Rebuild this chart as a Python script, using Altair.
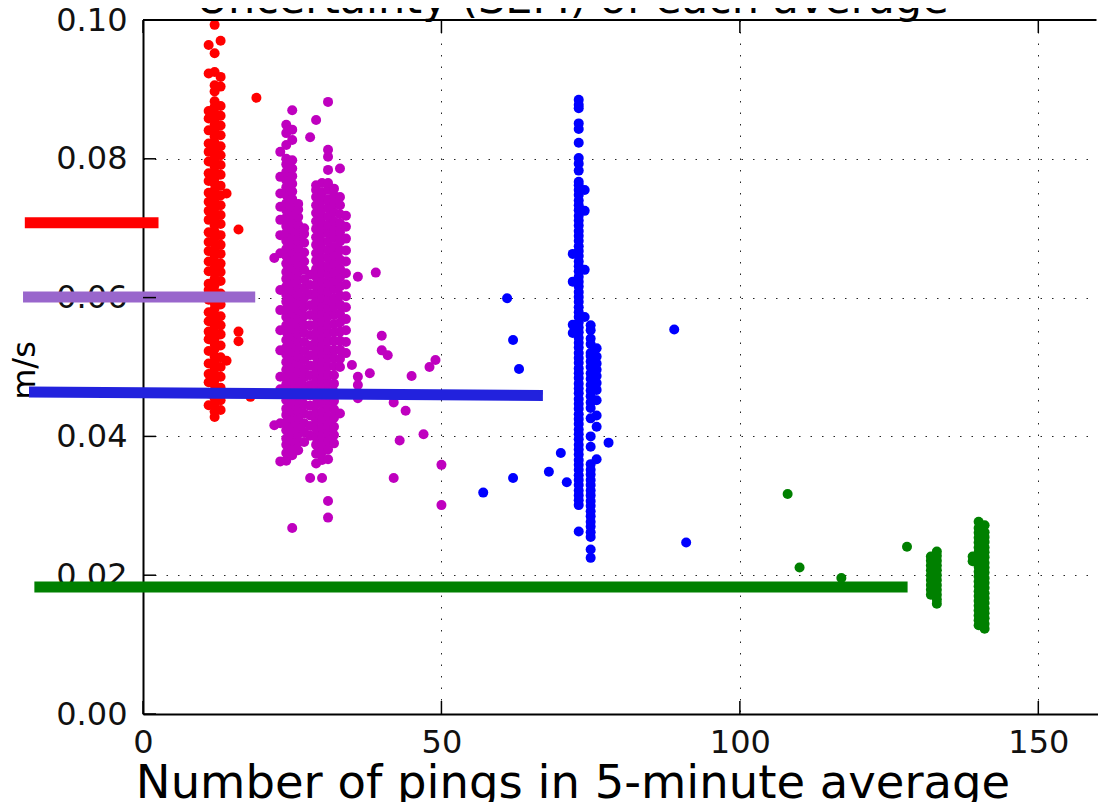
import altair as alt
import pandas as pd

# ---------------- data ----------------
red_cols = {
    11: [0.0445, 0.0462, 0.0478, 0.0490, 0.0505, 0.0523, 0.0540, 0.0551, 0.0566, 0.0579, 0.0597,
         0.0611, 0.0620, 0.0638, 0.0652, 0.0667, 0.0680, 0.0694, 0.0712, 0.0725, 0.0738, 0.0751,
         0.0768, 0.0779, 0.0796, 0.0810, 0.0822, 0.0841, 0.0858, 0.0869, 0.0923, 0.0964],
    12: [0.0428, 0.0436, 0.0447, 0.0455, 0.0463, 0.0474, 0.0482, 0.0489, 0.0498, 0.0507, 0.0515,
         0.0526, 0.0533, 0.0541, 0.0549, 0.0558, 0.0567, 0.0575, 0.0584, 0.0592, 0.0601, 0.0609,
         0.0618, 0.0627, 0.0635, 0.0643, 0.0652, 0.0661, 0.0669, 0.0678, 0.0686, 0.0695, 0.0704,
         0.0712, 0.0721, 0.0729, 0.0738, 0.0746, 0.0755, 0.0764, 0.0772, 0.0781, 0.0789, 0.0798,
         0.0806, 0.0815, 0.0823, 0.0832, 0.0840, 0.0849, 0.0857, 0.0866, 0.0875, 0.0883, 0.0897,
         0.0906, 0.0925, 0.0952, 0.0993],
    13: [0.0438, 0.0452, 0.0470, 0.0486, 0.0500, 0.0514, 0.0531, 0.0547, 0.0560, 0.0573, 0.0590,
         0.0606, 0.0624, 0.0637, 0.0649, 0.0663, 0.0676, 0.0690, 0.0706, 0.0719, 0.0733, 0.0747,
         0.0761, 0.0777, 0.0791, 0.0805, 0.0818, 0.0834, 0.0848, 0.0862, 0.0876, 0.0904, 0.0918,
         0.0970],
}
red_extra_x = [19, 14, 16, 16, 16, 14, 18]
red_extra_y = [0.0888, 0.0750, 0.0698, 0.0551, 0.0537, 0.0509, 0.0457]

mag_cols = {
    23: [0.0810, 0.0774, 0.0750, 0.0731, 0.0712, 0.0690, 0.0664, 0.0611, 0.0582, 0.0553, 0.0524,
         0.0486, 0.0468, 0.0419],
    24: [0.0365, 0.0376, 0.0388, 0.0397, 0.0409, 0.0420, 0.0431, 0.0440, 0.0452, 0.0463, 0.0475,
         0.0484, 0.0496, 0.0507, 0.0518, 0.0528, 0.0539, 0.0551, 0.0560, 0.0572, 0.0583, 0.0594,
         0.0604, 0.0616, 0.0627, 0.0637, 0.0649, 0.0660, 0.0670, 0.0682, 0.0693, 0.0703, 0.0715,
         0.0726, 0.0736, 0.0748, 0.0759, 0.0769, 0.0781, 0.0792, 0.0800, 0.0820, 0.0837, 0.0849],
    25: [0.0373, 0.0383, 0.0394, 0.0404, 0.0415, 0.0426, 0.0436, 0.0447, 0.0458, 0.0469, 0.0479,
         0.0490, 0.0501, 0.0512, 0.0522, 0.0533, 0.0545, 0.0555, 0.0566, 0.0577, 0.0588, 0.0598,
         0.0610, 0.0621, 0.0632, 0.0643, 0.0654, 0.0665, 0.0676, 0.0687, 0.0698, 0.0709, 0.0720,
         0.0731, 0.0742, 0.0753, 0.0764, 0.0775, 0.0786, 0.0798, 0.0827, 0.0842, 0.0870],
    26: [0.0380, 0.0392, 0.0403, 0.0413, 0.0425, 0.0437, 0.0448, 0.0458, 0.0470, 0.0481, 0.0492,
         0.0503, 0.0515, 0.0526, 0.0537, 0.0548, 0.0559, 0.0570, 0.0582, 0.0593, 0.0604, 0.0615,
         0.0626, 0.0637, 0.0648, 0.0660, 0.0671, 0.0682, 0.0693, 0.0705, 0.0716, 0.0727, 0.0735],
    27: [0.0392, 0.0406, 0.0419, 0.0433, 0.0446, 0.0458, 0.0472, 0.0485, 0.0497, 0.0510, 0.0523,
         0.0536, 0.0549, 0.0561, 0.0574, 0.0587, 0.0600, 0.0613, 0.0626, 0.0640, 0.0652, 0.0665,
         0.0679, 0.0692, 0.0700],
    28: [0.0401, 0.0415, 0.0430, 0.0444, 0.0459, 0.0474, 0.0488, 0.0502, 0.0517, 0.0531, 0.0546,
         0.0560, 0.0575, 0.0589, 0.0604, 0.0618, 0.0633, 0.0831],
    29: [0.0361, 0.0375, 0.0388, 0.0399, 0.0411, 0.0423, 0.0434, 0.0446, 0.0457, 0.0469, 0.0480,
         0.0492, 0.0503, 0.0515, 0.0526, 0.0538, 0.0549, 0.0561, 0.0572, 0.0584, 0.0595, 0.0607,
         0.0618, 0.0630, 0.0641, 0.0653, 0.0664, 0.0676, 0.0687, 0.0699, 0.0710, 0.0722, 0.0733,
         0.0745, 0.0755, 0.0762, 0.0856],
    30: [0.0366, 0.0378, 0.0390, 0.0401, 0.0413, 0.0425, 0.0436, 0.0448, 0.0460, 0.0471, 0.0483,
         0.0495, 0.0506, 0.0518, 0.0530, 0.0541, 0.0553, 0.0565, 0.0576, 0.0588, 0.0600, 0.0611,
         0.0623, 0.0635, 0.0646, 0.0658, 0.0670, 0.0681, 0.0693, 0.0705, 0.0716, 0.0728, 0.0740,
         0.0751, 0.0765],
    31: [0.0367, 0.0381, 0.0393, 0.0405, 0.0417, 0.0429, 0.0441, 0.0453, 0.0465, 0.0477, 0.0489,
         0.0501, 0.0513, 0.0525, 0.0537, 0.0549, 0.0561, 0.0573, 0.0585, 0.0597, 0.0609, 0.0621,
         0.0633, 0.0645, 0.0657, 0.0669, 0.0681, 0.0693, 0.0705, 0.0717, 0.0729, 0.0741, 0.0755,
         0.0765, 0.0784, 0.0803, 0.0813, 0.0882],
    32: [0.0390, 0.0402, 0.0414, 0.0427, 0.0439, 0.0451, 0.0464, 0.0476, 0.0488, 0.0501, 0.0513,
         0.0525, 0.0538, 0.0550, 0.0562, 0.0575, 0.0587, 0.0599, 0.0612, 0.0624, 0.0636, 0.0649,
         0.0661, 0.0673, 0.0686, 0.0698, 0.0710, 0.0723, 0.0735, 0.0747, 0.0757],
    33: [0.0500, 0.0512, 0.0525, 0.0538, 0.0551, 0.0564, 0.0577, 0.0590, 0.0603, 0.0616, 0.0629,
         0.0642, 0.0655, 0.0668, 0.0681, 0.0694, 0.0707, 0.0720, 0.0733, 0.0745, 0.0786],
    34: [0.0520, 0.0536, 0.0553, 0.0569, 0.0586, 0.0602, 0.0619, 0.0635, 0.0652, 0.0668, 0.0685,
         0.0702, 0.0718],
}
mag_extra_x = [22, 22, 23, 36, 39, 40, 40, 41, 38, 36, 36, 36, 35, 45, 48, 49, 42, 44, 47, 43,
               50, 50, 42, 25, 28, 30, 33, 31, 31]
mag_extra_y = [0.0416, 0.0657, 0.0364, 0.0630, 0.0636, 0.0545, 0.0524, 0.0517, 0.0491, 0.0486,
               0.0474, 0.0455, 0.0503, 0.0487, 0.0500, 0.0510, 0.0449, 0.0437, 0.0403, 0.0394,
               0.0359, 0.0301, 0.0340, 0.0268, 0.0340, 0.0340, 0.0433, 0.0307, 0.0283]

blue_cols = {
    72: [0.0663, 0.0623, 0.0561, 0.0549],
    73: [0.0263, 0.0301, 0.0308, 0.0315, 0.0322, 0.0330, 0.0337, 0.0344, 0.0352, 0.0359, 0.0366,
         0.0374, 0.0381, 0.0388, 0.0396, 0.0403, 0.0410, 0.0418, 0.0425, 0.0432, 0.0440, 0.0447,
         0.0454, 0.0462, 0.0469, 0.0476, 0.0484, 0.0491, 0.0498, 0.0506, 0.0513, 0.0520, 0.0528,
         0.0535, 0.0542, 0.0550, 0.0557, 0.0564, 0.0572, 0.0579, 0.0586, 0.0594, 0.0601, 0.0608,
         0.0616, 0.0623, 0.0630, 0.0638, 0.0645, 0.0652, 0.0660, 0.0667, 0.0674, 0.0682, 0.0689,
         0.0696, 0.0704, 0.0711, 0.0718, 0.0726, 0.0733, 0.0740, 0.0748, 0.0755, 0.0762, 0.0767,
         0.0783, 0.0793, 0.0801, 0.0823, 0.0843, 0.0851, 0.0873, 0.0878, 0.0885],
    74: [0.0755, 0.0725, 0.0640, 0.0572],
    75: [0.0225, 0.0237, 0.0255, 0.0262, 0.0270, 0.0277, 0.0285, 0.0292, 0.0300, 0.0307, 0.0315,
         0.0322, 0.0330, 0.0337, 0.0345, 0.0352, 0.0360, 0.0385, 0.0400, 0.0426, 0.0441, 0.0449,
         0.0458, 0.0466, 0.0474, 0.0483, 0.0491, 0.0500, 0.0508, 0.0516, 0.0520, 0.0533, 0.0541,
         0.0553, 0.0560],
    76: [0.0367, 0.0414, 0.0430, 0.0452, 0.0467, 0.0477, 0.0487, 0.0496, 0.0505, 0.0515, 0.0527],
}
blue_extra_x = [61, 62, 63, 89, 62, 57, 68, 70, 71, 78, 91]
blue_extra_y = [0.0599, 0.0539, 0.0497, 0.0554, 0.0340, 0.0319, 0.0349, 0.0376, 0.0334, 0.0391, 0.0247]

green_cols = {
    132: [0.0172, 0.0179, 0.0186, 0.0193, 0.0200, 0.0207, 0.0214, 0.0221, 0.0227],
    133: [0.0159, 0.0165, 0.0172, 0.0179, 0.0186, 0.0193, 0.0200, 0.0207, 0.0214, 0.0221, 0.0228,
          0.0234],
    139: [0.0227, 0.0220],
    140: [0.0128, 0.0135, 0.0142, 0.0149, 0.0156, 0.0163, 0.0170, 0.0177, 0.0184, 0.0191, 0.0198,
          0.0205, 0.0212, 0.0219, 0.0226, 0.0233, 0.0240, 0.0247, 0.0254, 0.0261, 0.0268, 0.0277],
    141: [0.0123, 0.0130, 0.0138, 0.0145, 0.0152, 0.0160, 0.0167, 0.0174, 0.0182, 0.0189, 0.0196,
          0.0204, 0.0211, 0.0218, 0.0226, 0.0233, 0.0240, 0.0248, 0.0255, 0.0262, 0.0272],
}
green_extra_x = [108, 110, 117, 128]
green_extra_y = [0.0317, 0.0211, 0.0196, 0.0241]

series_names = ["red", "magenta", "blue", "green"]
series_colors = ["#ff0000", "#bf00bf", "#0000ff", "#008000"]

# thick horizontal reference bars
bar_names = ["red", "purple", "blue", "green"]
bar_x_start = [-19.8, -20.1, -19.1, -18.2]
bar_x_end = [2.6, 18.8, 67.0, 128.1]
bar_y_start = [0.0708, 0.0601, 0.0464, 0.0183]
bar_y_end = [0.0708, 0.0601, 0.0459, 0.0183]
bar_colors = ["#ff0000", "#9966cc", "#2222dd", "#008000"]

x_ticks = [0, 50, 100, 150]
y_ticks = [0.0, 0.02, 0.04, 0.06, 0.08, 0.10]

title_text = "Uncertainty (SEM) of each average"
x_title = "Number of pings in 5-minute average"
y_title = "m/s"

# ---------------- build tables ----------------
rows = []
groups = [
    ("red", red_cols, red_extra_x, red_extra_y),
    ("magenta", mag_cols, mag_extra_x, mag_extra_y),
    ("blue", blue_cols, blue_extra_x, blue_extra_y),
    ("green", green_cols, green_extra_x, green_extra_y),
]
for name, cols, ex, ey in groups:
    for xv, ys in cols.items():
        for yv in ys:
            rows.append({"series": name, "x": xv, "y": yv})
    for xv, yv in zip(ex, ey):
        rows.append({"series": name, "x": xv, "y": yv})
points = pd.DataFrame(rows)

bars = pd.DataFrame({
    "name": bar_names, "x": bar_x_start, "x2": bar_x_end,
    "y": bar_y_start, "y2": bar_y_end, "c": bar_colors,
})

W, H = 955, 694
FONT = "DejaVu Sans"

xs = alt.Scale(domain=[0, 160], nice=False, zero=False)
ys = alt.Scale(domain=[0, 0.1], nice=False, zero=False)

grid_kw = dict(grid=True, gridColor="#000000", gridDash=[1.5, 10], gridWidth=1, gridOpacity=0.85)

xaxis = alt.Axis(
    values=x_ticks, format="d", title=x_title, ticks=False, tickSize=0,
    domain=True, domainColor="#000000", domainWidth=2,
    labelFont=FONT, labelFontSize=32, labelColor="#111111", labelPadding=38,
    labelBaseline="alphabetic", labelFlush=False, labelOverlap=False,
    titleFont=FONT, titleFontSize=46.5, titleFontWeight="normal", titleColor="#000000",
    titleX=429.5, titleY=83, titleAlign="center", titleBaseline="alphabetic",
    **grid_kw,
)
yaxis = alt.Axis(
    values=y_ticks, format=".2f", title=y_title, ticks=False, tickSize=0,
    domain=True, domainColor="#000000", domainWidth=2,
    labelFont=FONT, labelFontSize=32, labelColor="#111111", labelPadding=16,
    labelBaseline="middle", labelAlign="right", labelFlush=False, labelOverlap=False,
    titleFont=FONT, titleFontSize=32, titleFontWeight="normal", titleColor="#000000",
    titleX=-109, titleY=350, titleAngle=270, titleAlign="center", titleBaseline="alphabetic",
    **grid_kw,
)

pts = alt.Chart(points).mark_circle(size=100, opacity=1, clip=True).encode(
    x=alt.X("x:Q", scale=xs, axis=xaxis),
    y=alt.Y("y:Q", scale=ys, axis=yaxis),
    color=alt.Color("series:N", scale=alt.Scale(domain=series_names, range=series_colors), legend=None),
)

bar_layer = alt.Chart(bars).mark_rule(strokeWidth=11, strokeCap="butt").encode(
    x=alt.X("x:Q", scale=xs, axis=xaxis),
    x2="x2:Q",
    y=alt.Y("y:Q", scale=ys, axis=yaxis),
    y2="y2:Q",
    color=alt.Color("c:N", scale=None),
)

ytick_layer = alt.Chart(pd.DataFrame({"y": y_ticks})).mark_rule(strokeWidth=1.5, color="#000000").encode(
    y=alt.Y("y:Q", scale=ys, axis=yaxis), x=alt.value(0), x2=alt.value(13),
)
xtick_bottom = alt.Chart(pd.DataFrame({"x": x_ticks})).mark_rule(strokeWidth=1.5, color="#000000").encode(
    x=alt.X("x:Q", scale=xs, axis=xaxis), y=alt.value(H), y2=alt.value(H - 13),
)
xtick_top = alt.Chart(pd.DataFrame({"x": x_ticks})).mark_rule(strokeWidth=1.5, color="#000000").encode(
    x=alt.X("x:Q", scale=xs, axis=xaxis), y=alt.value(0), y2=alt.value(13),
)
top_border = alt.Chart(pd.DataFrame({"y": [0.1]})).mark_rule(strokeWidth=2, color="#000000").encode(
    y=alt.Y("y:Q", scale=ys, axis=yaxis), x=alt.value(0), x2=alt.value(W),
)
# white strip hiding the right-hand frame edge (the reference plot continues past the picture)
edge_cover = alt.Chart(pd.DataFrame({"k": [0]})).mark_rule(strokeWidth=5, color="#ffffff").encode(
    x=alt.value(W + 1), y=alt.value(-2), y2=alt.value(H - 1),
)
title_layer = alt.Chart(pd.DataFrame({"t": [title_text]})).mark_text(
    font=FONT, fontSize=43, align="center", baseline="alphabetic", color="#000000",
).encode(text="t:N", x=alt.value(429.5), y=alt.value(-7))

chart = alt.layer(
    pts, bar_layer, ytick_layer, xtick_bottom, xtick_top, top_border, edge_cover, title_layer
).properties(
    width=W, height=H,
    autosize=alt.AutoSizeParams(type="none"),
    padding={"left": 135, "top": 12, "right": 0, "bottom": 88},
    background="#ffffff",
).configure_view(strokeWidth=0, stroke=None)

chart.save("out.html", embed_options={"renderer": "svg", "actions": False})
